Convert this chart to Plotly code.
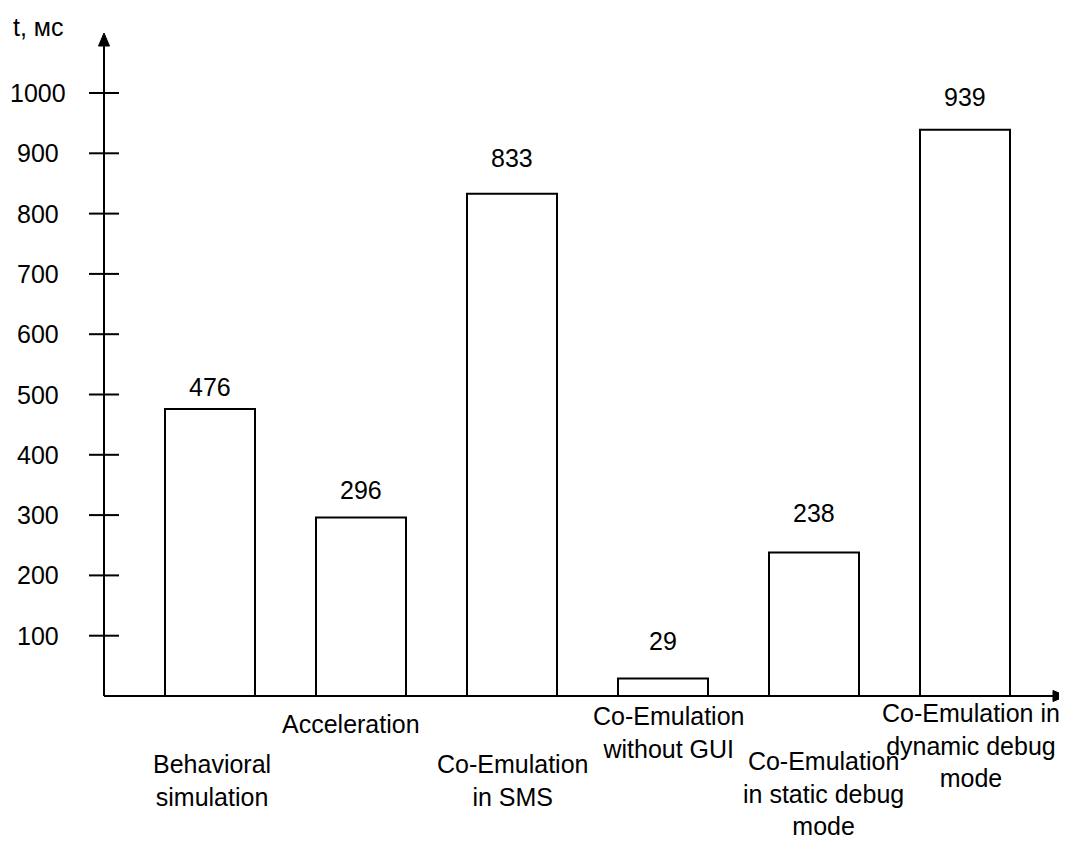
import plotly.graph_objects as go

# ---- data ----
categories = [
    "Behavioral<br>simulation",
    "Acceleration",
    "Co-Emulation<br>in SMS",
    "Co-Emulation<br>without GUI",
    "Co-Emulation<br>in static debug<br>mode",
    "Co-Emulation in<br>dynamic debug<br>mode",
]
times_ms = [476, 296, 833, 29, 238, 939]
y_ticks = [100, 200, 300, 400, 500, 600, 700, 800, 900, 1000]
y_title = "t, мс"

# ---- style / layout (page pixels; page body has an 8px margin) ----
OFF = 8
W, H = 1067 - OFF, 844 - OFF
AX_X, AX_Y, TOP_Y, RIGHT_X = 104, 696, 33, 1062     # page pixel positions
L = AX_X - OFF
T = TOP_Y - OFF
R = W - (RIGHT_X - OFF)
B = H - (AX_Y - OFF)
PW, PH = W - L - R, H - T - B
FONT = "Liberation Sans, Arial, sans-serif"
FS = 25
label_yshift = [22, 28, 36, 38, 39, 33]          # value label offset above bar (px)
cat_xshift = [2, -10, 0, 5, 9, 6]                # category label x offsets (px)
cat_top_px = [749, 709, 749, 701, 746, 698]      # category label top (page px)

def pxx(p):
    return (p - AX_X) / PW

def pxy(p):
    return (AX_Y - p) / PH

positions = list(range(1, len(times_ms) + 1))
x_range = [1 - (210 - AX_X) / 151, 1 + (RIGHT_X - 210) / 151]
y_range = [0, PH / 0.603]

fig = go.Figure()
fig.add_trace(go.Bar(
    x=positions, y=times_ms, width=90 / 151,
    marker=dict(color="white", line=dict(color="black", width=2)),
    hoverinfo="skip",
))

shapes = []
annotations = []

# axes lines
shapes.append(dict(type="line", xref="paper", yref="paper", x0=0, x1=0,
                   y0=0, y1=pxy(40), line=dict(color="black", width=2)))
shapes.append(dict(type="line", xref="paper", yref="paper", x0=0, x1=pxx(1058),
                   y0=0, y1=0, line=dict(color="black", width=2)))
# arrow heads
shapes.append(dict(type="path", xref="paper", yref="paper",
                   path=f"M {pxx(104)} {pxy(33)} L {pxx(98.5)} {pxy(46)} L {pxx(109.5)} {pxy(46)} Z",
                   fillcolor="black", line=dict(color="black", width=1)))
shapes.append(dict(type="path", xref="paper", yref="paper",
                   path=f"M {pxx(1066)} {pxy(696)} L {pxx(1053)} {pxy(690.5)} L {pxx(1053)} {pxy(701.5)} Z",
                   fillcolor="black", line=dict(color="black", width=1)))

# y ticks and labels
for v in y_ticks:
    shapes.append(dict(type="line", xref="paper", yref="y", x0=pxx(89), x1=pxx(119),
                       y0=v, y1=v, line=dict(color="black", width=2)))
    annotations.append(dict(xref="paper", yref="y", x=pxx(38), y=v, text=str(v),
                            showarrow=False, xanchor="center", yanchor="middle",
                            font=dict(family=FONT, size=FS, color="black")))

# axis title
annotations.append(dict(xref="paper", yref="paper", x=pxx(38), y=pxy(27), text=y_title,
                        showarrow=False, xanchor="center", yanchor="middle",
                        font=dict(family=FONT, size=FS, color="black")))

# value labels
for xp, v, ys in zip(positions, times_ms, label_yshift):
    annotations.append(dict(xref="x", yref="y", x=xp, y=v, text=str(v), yshift=ys,
                            showarrow=False, xanchor="center", yanchor="middle",
                            font=dict(family=FONT, size=FS, color="black")))

# category labels
for xp, c, xs, tp in zip(positions, categories, cat_xshift, cat_top_px):
    annotations.append(dict(xref="x", yref="paper", x=xp, y=pxy(tp), text=c, xshift=xs,
                            showarrow=False, xanchor="center", yanchor="top", align="center",
                            borderpad=0,
                            font=dict(family=FONT, size=FS, color="black")))

fig.update_layout(
    width=W, height=H,
    margin=dict(l=L, r=R, t=T, b=B),
    paper_bgcolor="white", plot_bgcolor="white",
    showlegend=False,
    xaxis=dict(range=x_range, showline=False, showgrid=False, zeroline=False,
               showticklabels=False, ticks=""),
    yaxis=dict(range=y_range, showline=False, showgrid=False, zeroline=False,
               showticklabels=False, ticks=""),
    shapes=shapes,
    annotations=annotations,
)

fig.write_html("out.html")
